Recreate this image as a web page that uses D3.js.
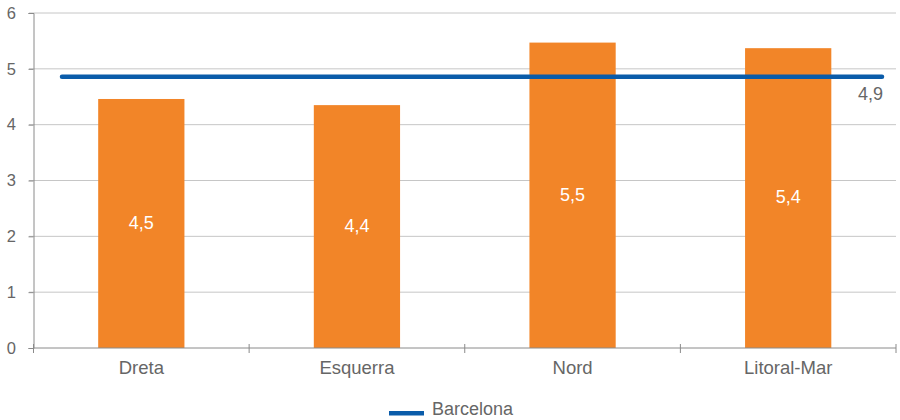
<!DOCTYPE html>
<html><head><meta charset="utf-8">
<script src="https://cdn.jsdelivr.net/npm/d3@7"></script>
<style>body{margin:0;background:#fff}svg text{font-family:"Liberation Sans",Arial,sans-serif}</style>
</head><body><svg id="c" width="900" height="420"></svg>
<script>
const categories = ["Dreta", "Esquerra", "Nord", "Litoral-Mar"];
const values = [4.46, 4.35, 5.47, 5.37];
const valueLabels = ["4,5", "4,4", "5,5", "5,4"];
const barcelona = 4.86;
const barcelonaLabel = "4,9";
const yTicks = [0, 1, 2, 3, 4, 5, 6];

const svg = d3.select("#c");
const m = {l: 33.5, r: 896, t: 13, b: 348};
const x = d3.scaleBand().domain(categories).range([m.l, m.r]).paddingInner(0.6).paddingOuter(0.3);
const xb = d3.scaleBand().domain(categories).range([m.l, m.r]);
const y = d3.scaleLinear().domain([0, 6]).range([m.b, m.t]);

// grid
svg.append("g").selectAll("line").data(yTicks.filter(d => d > 0)).join("line")
  .attr("x1", 29).attr("x2", m.r).attr("y1", d => y(d)).attr("y2", d => y(d))
  .attr("stroke", "#c6c6c6").attr("stroke-width", 1);
// y tick marks + labels
const ya = svg.append("g").attr("transform", `translate(${m.l},0)`)
  .call(d3.axisLeft(y).tickValues(yTicks).tickSize(5).tickPadding(12.5).tickFormat(d3.format("d")));
ya.select(".domain").attr("stroke", "#8a8a8a");
ya.selectAll(".tick line").attr("stroke", "#8a8a8a");
ya.selectAll("text").attr("fill", "#666").attr("font-size", 16.5);

// bars
svg.append("g").selectAll("rect").data(values).join("rect")
  .attr("x", (d, i) => x(categories[i])).attr("width", x.bandwidth())
  .attr("y", d => y(d)).attr("height", d => y(0) - y(d)).attr("fill", "#F28528");
svg.append("g").selectAll("text").data(values).join("text")
  .attr("x", (d, i) => x(categories[i]) + x.bandwidth() / 2)
  .attr("y", d => (y(d) + y(0)) / 2 - 1).attr("dy", "0.35em")
  .attr("text-anchor", "middle").attr("fill", "#fff").attr("font-size", 18)
  .text((d, i) => valueLabels[i]);

// x axis
const xa = svg.append("g").attr("transform", `translate(0,${m.b})`)
  .call(d3.axisBottom(xb).tickSize(0).tickPadding(13));
xa.select(".domain").remove();
svg.append("line").attr("x1", m.l).attr("x2", m.r).attr("y1", m.b).attr("y2", m.b).attr("stroke", "#8a8a8a");
const bounds = categories.map(c => xb(c)).concat([m.r]);
svg.append("g").selectAll("line").data(bounds).join("line")
  .attr("x1", d => d).attr("x2", d => d).attr("y1", m.b - 4).attr("y2", m.b + 5)
  .attr("stroke", "#8a8a8a");
xa.selectAll("text").attr("fill", "#666").attr("font-size", 18.5);

// Barcelona line
svg.append("line").attr("x1", 62).attr("x2", 882).attr("y1", y(barcelona)).attr("y2", y(barcelona))
  .attr("stroke", "#0A5CAA").attr("stroke-width", 4.5).attr("stroke-linecap", "round");
svg.append("text").attr("x", 883).attr("y", y(barcelona) + 23)
  .attr("text-anchor", "end").attr("fill", "#666").attr("font-size", 18).text(barcelonaLabel);

// legend
svg.append("rect").attr("x", 389).attr("y", 411).attr("width", 35).attr("height", 4.5).attr("fill", "#0A5CAA");
svg.append("text").attr("x", 432).attr("y", 415).attr("fill", "#666")
  .attr("font-size", 18).text("Barcelona");
</script></body></html>
